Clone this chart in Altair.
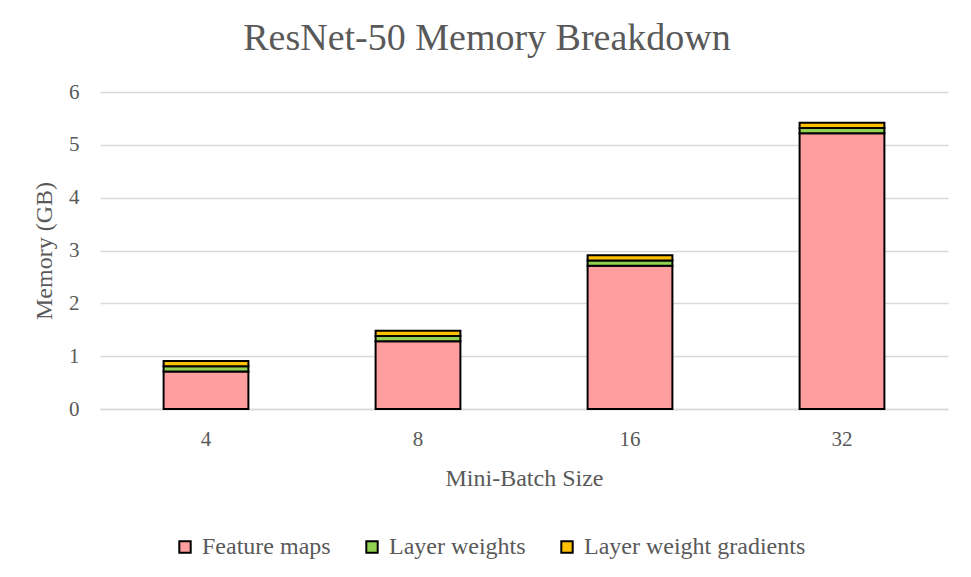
import altair as alt
import pandas as pd

batch_sizes = ["4", "8", "16", "32"]
feature_maps = [0.71, 1.28, 2.71, 5.22]
layer_weights = [0.10, 0.10, 0.10, 0.10]
weight_gradients = [0.10, 0.10, 0.10, 0.10]
series = ["Feature maps", "Layer weights", "Layer weight gradients"]
colors = ["#ff9e9e", "#92d050", "#ffc000"]

rows = []
for i, b in enumerate(batch_sizes):
    for k, (name, vals) in enumerate(zip(series, [feature_maps, layer_weights, weight_gradients])):
        rows.append({"batch": b, "series": name, "memory": vals[i], "order": k})
df = pd.DataFrame(rows)

font = "Liberation Serif"
grey = "#595959"
gridc = "#d9d9d9"

axis_style = dict(
    labelFont=font,
    labelFontSize=21,
    labelColor=grey,
    titleFont=font,
    titleFontSize=24,
    titleFontWeight="normal",
    titleColor=grey,
    ticks=False,
)

chart = alt.Chart(df).mark_bar(stroke="black", strokeWidth=2).encode(
    x=alt.X(
        "batch:N",
        sort=batch_sizes,
        scale=alt.Scale(paddingInner=0.6, paddingOuter=0.3),
        axis=alt.Axis(
            title="Mini-Batch Size",
            labelAngle=0,
            domain=True,
            domainColor=gridc,
            domainWidth=1.5,
            labelPadding=19,
            titlePadding=17,
            **axis_style,
        ),
    ),
    y=alt.Y(
        "memory:Q",
        stack="zero",
        scale=alt.Scale(domain=[0, 6]),
        axis=alt.Axis(
            title="Memory (GB)",
            values=[0, 1, 2, 3, 4, 5, 6],
            domain=False,
            grid=True,
            gridColor=gridc,
            gridWidth=1.5,
            labelPadding=21,
            titlePadding=12,
            **axis_style,
        ),
    ),
    color=alt.Color(
        "series:N",
        sort=series,
        scale=alt.Scale(domain=series, range=colors),
        legend=alt.Legend(
            title=None,
            orient="none",
            direction="horizontal",
            legendX=73,
            legendY=443,
            columnPadding=29,
            symbolType="square",
            symbolSize=130,
            symbolStrokeColor="black",
            symbolStrokeWidth=2,
            labelFontSize=24,
            labelFont=font,
            labelColor=grey,
            labelOffset=5,
            labelLimit=0,
        ),
    ),
    order=alt.Order("order:Q"),
).properties(
    width=848,
    height=317,
    autosize=alt.AutoSizeParams(type="none"),
    padding={"left": 100, "top": 92, "right": 23, "bottom": 168},
    background="white",
    title=alt.TitleParams(
        "ResNet-50 Memory Breakdown",
        font=font,
        fontSize=38,
        fontWeight="normal",
        color=grey,
        anchor="middle",
        dx=-37,
        offset=23,
    ),
).configure_view(stroke=None)

chart.save("out.html", embed_options={"renderer": "svg", "actions": False})
